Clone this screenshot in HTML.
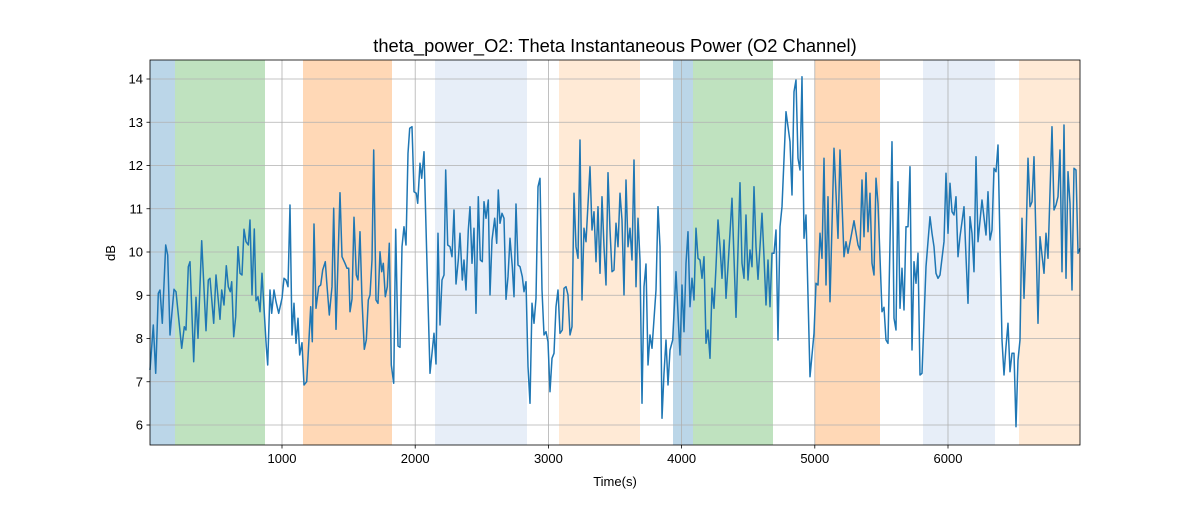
<!DOCTYPE html>
<html><head><meta charset="utf-8"><style>
body{margin:0;background:#fff;}
svg text{font-family:"Liberation Sans","DejaVu Sans",sans-serif;fill:#000;}
</style></head><body>
<svg id="s" width="1200" height="500" xmlns="http://www.w3.org/2000/svg">
<rect width="1200" height="500" fill="#fff"/>
<g id="spans">
<rect x="150" y="60" width="25" height="385" fill="#1f77b4" opacity="0.3"/>
<rect x="175" y="60" width="90" height="385" fill="#2ca02c" opacity="0.3"/>
<rect x="303" y="60" width="89" height="385" fill="#ff7f0e" opacity="0.3"/>
<rect x="435" y="60" width="92" height="385" fill="#aec7e8" opacity="0.3"/>
<rect x="559" y="60" width="81" height="385" fill="#ffbb78" opacity="0.3"/>
<rect x="673" y="60" width="20" height="385" fill="#1f77b4" opacity="0.3"/>
<rect x="693" y="60" width="80" height="385" fill="#2ca02c" opacity="0.3"/>
<rect x="815" y="60" width="65" height="385" fill="#ff7f0e" opacity="0.3"/>
<rect x="923" y="60" width="72" height="385" fill="#aec7e8" opacity="0.3"/>
<rect x="1019" y="60" width="61" height="385" fill="#ffbb78" opacity="0.3"/>
</g>
<g id="grid" stroke="#b0b0b0" stroke-width="0.8"></g>
<path id="line" fill="none" stroke="#1f77b4" stroke-width="1.5" stroke-linejoin="round"/>
<rect x="150" y="60" width="930" height="385" fill="none" stroke="#000" stroke-width="0.8"/>
<g id="ticks" font-size="13"></g>
<text x="615" y="52" font-size="18.3" text-anchor="middle">theta_power_O2: Theta Instantaneous Power (O2 Channel)</text>
<text x="615" y="486" font-size="13" text-anchor="middle">Time(s)</text>
<text x="115" y="253" font-size="13" text-anchor="middle" transform="rotate(-90 115 253)">dB</text>
</svg>
<script>
var ns="http://www.w3.org/2000/svg";
function el(t,a,p,txt){var e=document.createElementNS(ns,t);for(var k in a)e.setAttribute(k,a[k]);if(txt)e.textContent=txt;document.getElementById(p).appendChild(e);}
for(var v=6;v<=14;v++){var y=425-(v-6)*43.25;el("line",{x1:150,x2:1080,y1:y,y2:y},"grid");
el("line",{x1:146.5,x2:150,y1:y,y2:y,stroke:"#000","stroke-width":0.8},"ticks");
el("text",{x:143,y:y+4.5,"text-anchor":"end"},"ticks",String(v));}
for(var k=1;k<=6;k++){var x=282+133.2*(k-1);el("line",{x1:x,x2:x,y1:60,y2:445},"grid");
el("line",{x1:x,x2:x,y1:445,y2:448.5,stroke:"#000","stroke-width":0.8},"ticks");
el("text",{x:x,y:463,"text-anchor":"middle"},"ticks",String(k*1000));}
var a=[0,930,10,795,17,940,25,700,30,690,37,790,47,555,53,585,60,825,72,688,78,695,95,865,103,800,108,810,115,620,120,605,131,905,138,712,144,835,155,542,168,812,175,660,180,655,191,790,198,645,210,778,215,690,222,735,229,617,235,680,241,695,245,665,251,830,257,770,264,560,270,640,276,645,282,508,288,545,295,555,300,480,306,705,313,507,318,722,324,710,330,755,336,640,344,780,349,860,353,915,360,690,365,760,372,690,378,725,386,760,396,715,402,655,408,660,414,680,420,435,426,825,432,730,438,850,444,775,449,885,456,848,462,975,470,965,478,820,482,740,487,845,492,492,498,745,506,680,512,675,518,630,526,605,530,665,538,765,546,680,551,445,558,808,570,398,576,590,585,610,591,625,596,625,600,755,606,717,612,472,619,645,624,660,630,515,636,720,643,868,649,840,655,720,660,705,666,600,671,270,678,720,684,730,690,575,695,635,700,610,706,710,712,680,718,550,724,915,731,970,737,508,744,858,750,862,756,560,762,500,768,555,774,280,779,205,786,200,792,395,799,400,803,430,810,310,815,355,822,275,830,580,840,940,852,820,858,912,864,520,870,795,876,660,882,645,887,330,893,555,900,560,906,590,912,450,918,672,925,600,930,520,937,660,942,600,948,690,955,510,960,440,966,610,972,505,978,760,985,410,991,600,997,605,1002,425,1008,475,1015,420,1020,705,1026,540,1034,475,1040,550,1045,390,1050,490,1056,460,1062,475,1068,718,1074,650,1080,535,1087,620,1092,710,1098,432,1104,615,1110,620,1117,650,1122,695,1128,665,1134,920,1140,1030,1146,730,1152,790,1158,715,1164,380,1170,355,1176,690,1182,825,1188,815,1194,845,1200,995,1206,895,1212,880,1218,740,1224,690,1230,820,1237,810,1242,685,1248,680,1254,705,1260,825,1266,800,1272,400,1278,560,1284,595,1290,240,1296,720,1302,505,1308,545,1320,320,1326,510,1332,455,1338,605,1344,440,1350,640,1356,410,1362,560,1368,675,1374,338,1380,510,1386,635,1392,630,1398,490,1404,560,1410,400];
var b=[36,480,42,705,48,360,54,560,60,505,66,600,72,300,78,680,84,475,90,600,96,1030,102,680,108,612,114,915,120,825,126,865,138,690,144,440,150,560,156,1075,162,940,168,840,174,975,180,870,188,840,198,635,210,885,216,675,222,815,228,610,234,515,240,740,246,655,252,720,258,505,264,595,270,600,276,655,282,590,288,850,294,810,300,895,306,685,312,745,318,620,324,480,330,560,336,655,342,540,348,715,354,620,366,415,378,772,390,368,396,610,402,655,408,465,414,660,420,570,426,620,432,380,438,560,444,658,450,560,456,460,462,590,468,735,474,600,480,740,486,580,492,580,498,510,504,840,510,500,516,440,528,155,540,245,546,405,552,95,558,60,564,295,570,330,576,50,582,535,588,465,600,950,612,820,618,670,624,675,630,520,636,595,642,295,648,675,654,410,660,725,672,265,684,535,690,270,702,590,708,545,714,580,732,482,744,555,750,570,756,360,762,530,768,338,774,515,780,400,786,610,792,645,798,355,804,430,816,755,822,742,828,840,834,850,846,245,852,775,858,810,864,365,870,745,876,625,882,750,888,500,894,500,900,320,906,870,912,605,918,670,924,580,930,945,936,940,948,620,960,470,966,520,972,560,978,640,984,655,990,645,1002,545,1008,340,1014,520,1020,370,1026,455,1032,465,1038,410,1044,590,1050,530,1062,440,1068,590,1074,730,1080,470,1086,520,1092,635,1098,290,1104,545,1116,420,1128,525,1134,395,1140,540,1146,510,1152,325,1158,335,1164,255,1176,840,1182,945,1188,860,1194,790,1200,935,1206,880,1212,880,1218,1100,1224,900,1230,840,1236,475,1242,715,1248,545,1254,295,1260,440,1266,425,1272,290,1284,790,1290,530,1302,640,1308,520,1314,595,1326,200,1332,450,1338,435,1344,410,1350,270,1356,635,1362,195,1368,655,1374,335,1380,430,1386,690,1392,325,1398,330,1404,580,1410,565];
var d=[];
for(var i=0;i<a.length;i+=2)d.push((a[i]/3+150).toFixed(1)+","+(a[i+1]/3+60).toFixed(1));
for(var i=0;i<b.length;i+=2)d.push((b[i]/3+610).toFixed(1)+","+(b[i+1]/3+60).toFixed(1));
document.getElementById("line").setAttribute("d","M"+d.join(" L"));
</script>
</body></html>
